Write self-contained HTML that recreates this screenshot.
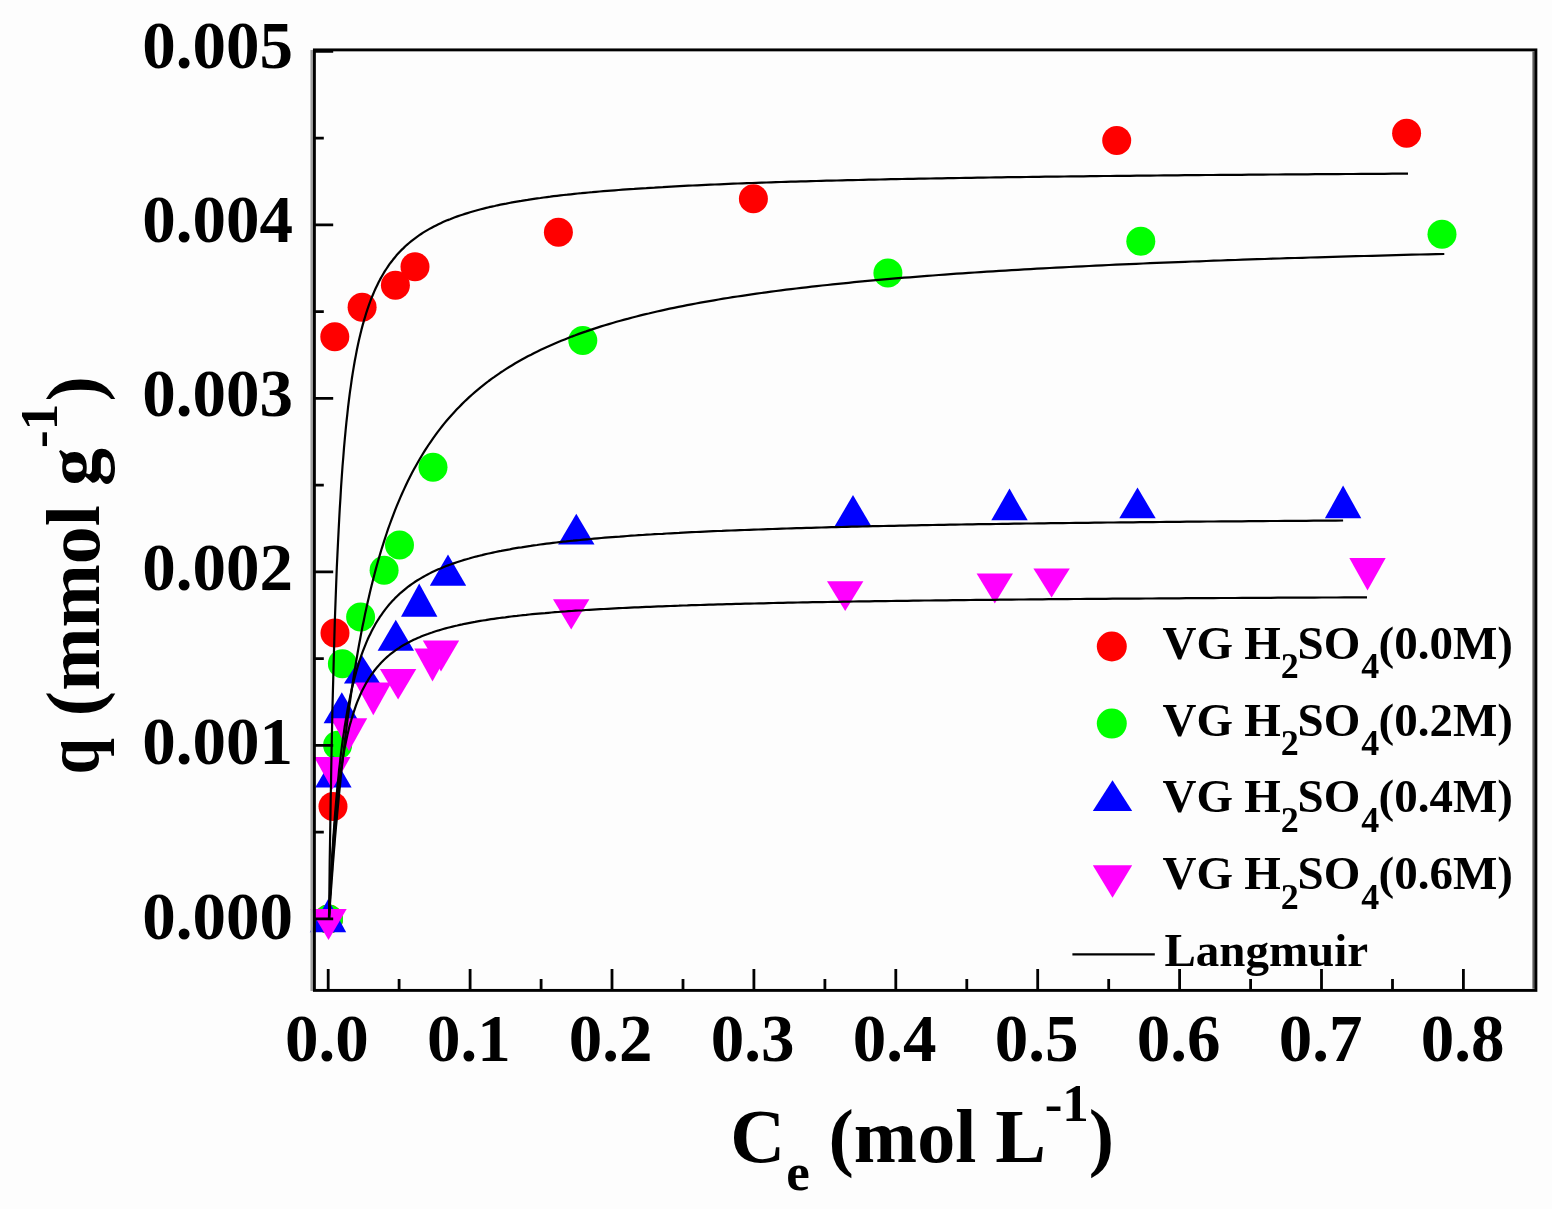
<!DOCTYPE html>
<html><head><meta charset="utf-8"><title>Langmuir isotherm</title><style>
html,body{margin:0;padding:0;background:#fdfdfd;}body{width:1552px;height:1209px;overflow:hidden;}
svg{display:block;}text{font-family:"Liberation Serif","Times New Roman",serif;font-weight:bold;fill:#000;}
</style></head><body>
<svg width="1552" height="1209" viewBox="0 0 1552 1209">
<rect x="0" y="0" width="1552" height="1209" fill="#fdfdfd"/>
<g fill="#ff0000"><circle cx="328.5" cy="919" r="14.5"/><circle cx="333" cy="806.5" r="14.5"/><circle cx="335" cy="633" r="14.5"/><circle cx="334.8" cy="336.8" r="14.5"/><circle cx="362.1" cy="307.3" r="14.5"/><circle cx="395.4" cy="285.2" r="14.5"/><circle cx="415" cy="266.8" r="14.5"/><circle cx="558.4" cy="232.3" r="14.5"/><circle cx="753.4" cy="198.8" r="14.5"/><circle cx="1116.7" cy="140.6" r="14.5"/><circle cx="1406.6" cy="133.3" r="14.5"/></g>
<g fill="#00ff00"><circle cx="328.5" cy="919" r="14.5"/><circle cx="337.6" cy="745.3" r="14.5"/><circle cx="342.4" cy="663.7" r="14.5"/><circle cx="360.6" cy="617.1" r="14.5"/><circle cx="384.1" cy="570.2" r="14.5"/><circle cx="399.5" cy="545.1" r="14.5"/><circle cx="433" cy="467.3" r="14.5"/><circle cx="582.8" cy="340.5" r="14.5"/><circle cx="887.9" cy="273" r="14.5"/><circle cx="1140.8" cy="241.2" r="14.5"/><circle cx="1442" cy="234.2" r="14.5"/></g>
<g fill="#0000ff"><path d="M328.0,899.2L346.2,932.3L309.8,932.3Z"/><path d="M333.4,756.1L351.6,787.4L315.2,787.4Z"/><path d="M341.8,692.3L360.0,723.2L323.6,723.2Z"/><path d="M362.1,655.6L380.3,683.4L343.9,683.4Z"/><path d="M395.8,619.7L414.0,650.7L377.6,650.7Z"/><path d="M419.2,583.6L437.4,616.7L401.0,616.7Z"/><path d="M448.0,554.5L466.2,585.8L429.8,585.8Z"/><path d="M576.3,513.8L594.5,544.6L558.1,544.6Z"/><path d="M853,495.1L871.2,526L834.8,526Z"/><path d="M1009.5,488.6L1027.7,520.3L991.3,520.3Z"/><path d="M1137.5,487.4L1155.7,518.3L1119.3,518.3Z"/><path d="M1343.1,485.5L1361.3,518.3L1324.9,518.3Z"/></g>
<g fill="#ff00ff"><path d="M310.3,909.1L346.7,909.1L328.5,939.9Z"/><path d="M314.1,756.9L350.5,756.9L332.3,789.6Z"/><path d="M330.8,718.2L367.2,718.2L349,751.0Z"/><path d="M355.1,682.5L391.5,682.5L373.3,715.2Z"/><path d="M379.9,669L416.3,669L398.1,699.6Z"/><path d="M414.3,648.5L450.7,648.5L432.5,681.5Z"/><path d="M422.8,640.5L459.2,640.5L441,671.5Z"/><path d="M553.0,599.2L589.4,599.2L571.2,629.6Z"/><path d="M827.0,581.3L863.4,581.3L845.2,611.1Z"/><path d="M976.6,573.6L1013.0,573.6L994.8,603.4Z"/><path d="M1033.4,568.6L1069.8,568.6L1051.6,597.6Z"/><path d="M1349.3,558.1L1385.7,558.1L1367.5,590.6Z"/></g>
<g fill="none" stroke="#000" stroke-width="2.2" stroke-linejoin="round">
<path d="M329.0,918.9 329.0,918.6 329.0,917.4 329.0,915.3 329.1,912.2 329.1,908.0 329.2,902.7 329.3,896.3 329.4,888.9 329.5,880.5 329.6,871.1 329.7,860.9 329.9,849.8 330.1,837.9 330.3,825.3 330.5,812.1 330.7,798.5 331.0,784.4 331.2,769.9 331.5,755.2 331.8,740.3 332.1,725.3 332.4,710.2 332.8,695.1 333.2,680.1 333.6,665.3 334.0,650.6 334.4,636.1 334.8,621.9 335.3,607.9 335.8,594.2 336.3,580.8 336.8,567.8 337.4,555.1 338.0,542.8 338.6,530.8 339.2,519.2 339.8,508.0 340.5,497.1 341.1,486.5 341.8,476.3 342.5,466.5 343.3,457.0 344.0,447.9 344.8,439.0 345.6,430.5 346.4,422.3 347.3,414.4 348.1,406.8 349.0,399.5 349.9,392.4 350.9,385.6 351.8,379.0 352.8,372.7 353.8,366.6 354.8,360.8 355.9,355.1 356.9,349.7 358.0,344.5 359.1,339.5 360.3,334.6 361.4,329.9 362.6,325.4 363.8,321.1 365.1,316.9 366.3,312.8 367.6,308.9 368.9,305.2 370.2,301.5 371.5,298.0 372.9,294.7 374.3,291.4 375.7,288.2 377.2,285.2 378.6,282.3 380.1,279.4 381.6,276.7 383.2,274.0 384.7,271.4 386.3,269.0 387.9,266.6 389.5,264.2 391.2,262.0 392.9,259.8 394.6,257.7 396.3,255.6 398.1,253.6 399.8,251.7 401.6,249.9 403.5,248.1 405.3,246.3 407.2,244.6 409.1,243.0 411.0,241.4 413.0,239.8 415.0,238.3 417.0,236.8 419.0,235.4 421.1,234.0 423.1,232.7 425.2,231.4 427.4,230.1 429.5,228.9 431.7,227.7 433.9,226.5 436.1,225.4 438.4,224.3 440.7,223.2 443.0,222.1 445.3,221.1 447.7,220.1 450.1,219.2 452.5,218.2 454.9,217.3 457.4,216.4 459.9,215.5 462.4,214.7 464.9,213.9 467.5,213.1 470.1,212.3 472.7,211.5 475.4,210.7 478.1,210.0 480.8,209.3 483.5,208.6 486.2,207.9 489.0,207.2 491.8,206.6 494.7,206.0 497.5,205.3 500.4,204.7 503.3,204.1 506.3,203.6 509.2,203.0 512.2,202.4 515.2,201.9 518.3,201.4 521.4,200.9 524.5,200.3 527.6,199.9 530.8,199.4 533.9,198.9 537.2,198.4 540.4,198.0 543.7,197.5 547.0,197.1 550.3,196.7 553.6,196.2 557.0,195.8 560.4,195.4 563.8,195.0 567.3,194.7 570.8,194.3 574.3,193.9 577.8,193.5 581.4,193.2 585.0,192.8 588.6,192.5 592.3,192.2 595.9,191.8 599.7,191.5 603.4,191.2 607.2,190.9 610.9,190.6 614.8,190.3 618.6,190.0 622.5,189.7 626.4,189.4 630.3,189.1 634.3,188.9 638.3,188.6 642.3,188.3 646.3,188.1 650.4,187.8 654.5,187.6 658.6,187.3 662.8,187.1 667.0,186.8 671.2,186.6 675.4,186.4 679.7,186.1 684.0,185.9 688.3,185.7 692.7,185.5 697.1,185.3 701.5,185.1 705.9,184.9 710.4,184.7 714.9,184.5 719.5,184.3 724.0,184.1 728.6,183.9 733.2,183.7 737.9,183.5 742.5,183.4 747.2,183.2 752.0,183.0 756.7,182.9 761.5,182.7 766.4,182.5 771.2,182.4 776.1,182.2 781.0,182.0 785.9,181.9 790.9,181.7 795.9,181.6 800.9,181.4 806.0,181.3 811.1,181.1 816.2,181.0 821.3,180.9 826.5,180.7 831.7,180.6 836.9,180.5 842.2,180.3 847.5,180.2 852.8,180.1 858.1,180.0 863.5,179.8 868.9,179.7 874.4,179.6 879.8,179.5 885.3,179.3 890.9,179.2 896.4,179.1 902.0,179.0 907.6,178.9 913.3,178.8 918.9,178.7 924.7,178.6 930.4,178.5 936.2,178.4 942.0,178.3 947.8,178.2 953.6,178.1 959.5,178.0 965.4,177.9 971.4,177.8 977.4,177.7 983.4,177.6 989.4,177.5 995.5,177.4 1001.6,177.3 1007.7,177.2 1013.9,177.1 1020.1,177.1 1026.3,177.0 1032.5,176.9 1038.8,176.8 1045.1,176.7 1051.5,176.6 1057.8,176.6 1064.3,176.5 1070.7,176.4 1077.2,176.3 1083.6,176.3 1090.2,176.2 1096.7,176.1 1103.3,176.0 1109.9,176.0 1116.6,175.9 1123.3,175.8 1130.0,175.8 1136.7,175.7 1143.5,175.6 1150.3,175.6 1157.1,175.5 1164.0,175.4 1170.9,175.4 1177.8,175.3 1184.8,175.2 1191.8,175.2 1198.8,175.1 1205.8,175.0 1212.9,175.0 1220.0,174.9 1227.2,174.9 1234.3,174.8 1241.5,174.8 1248.8,174.7 1256.0,174.6 1263.3,174.6 1270.7,174.5 1278.0,174.5 1285.4,174.4 1292.9,174.4 1300.3,174.3 1307.8,174.3 1315.3,174.2 1322.9,174.2 1330.5,174.1 1338.1,174.1 1345.7,174.0 1353.4,174.0 1361.1,173.9 1368.8,173.9 1376.6,173.8 1384.4,173.8 1392.2,173.7 1400.1,173.7 1408.0,173.6"/>
<path d="M329.0,918.9 329.0,918.8 329.0,918.6 329.0,918.2 329.1,917.6 329.1,916.8 329.2,915.8 329.3,914.6 329.4,913.1 329.5,911.5 329.6,909.6 329.8,907.4 329.9,905.0 330.1,902.4 330.3,899.6 330.5,896.5 330.8,893.2 331.0,889.7 331.3,886.0 331.6,882.1 331.9,877.9 332.2,873.6 332.6,869.1 332.9,864.3 333.3,859.4 333.7,854.4 334.1,849.2 334.6,843.8 335.0,838.2 335.5,832.6 336.0,826.8 336.6,820.9 337.1,814.8 337.7,808.7 338.3,802.5 338.9,796.2 339.5,789.8 340.2,783.4 340.8,776.8 341.5,770.3 342.3,763.7 343.0,757.0 343.8,750.4 344.5,743.7 345.3,737.0 346.2,730.3 347.0,723.6 347.9,716.9 348.8,710.2 349.7,703.5 350.7,696.9 351.6,690.2 352.6,683.6 353.6,677.1 354.6,670.6 355.7,664.1 356.8,657.7 357.9,651.3 359.0,645.0 360.2,638.8 361.3,632.6 362.5,626.5 363.8,620.4 365.0,614.4 366.3,608.5 367.6,602.6 368.9,596.9 370.2,591.2 371.6,585.5 373.0,580.0 374.4,574.5 375.8,569.1 377.3,563.8 378.8,558.5 380.3,553.4 381.8,548.3 383.4,543.3 385.0,538.3 386.6,533.5 388.2,528.7 389.9,524.0 391.6,519.4 393.3,514.8 395.0,510.3 396.8,505.9 398.6,501.6 400.4,497.4 402.2,493.2 404.1,489.1 406.0,485.0 407.9,481.1 409.8,477.2 411.8,473.3 413.8,469.6 415.8,465.9 417.9,462.2 419.9,458.7 422.0,455.2 424.2,451.7 426.3,448.3 428.5,445.0 430.7,441.8 432.9,438.6 435.2,435.4 437.4,432.3 439.7,429.3 442.1,426.3 444.4,423.4 446.8,420.5 449.2,417.7 451.7,414.9 454.2,412.2 456.6,409.6 459.2,406.9 461.7,404.4 464.3,401.8 466.9,399.4 469.5,396.9 472.2,394.5 474.9,392.2 477.6,389.9 480.3,387.6 483.1,385.4 485.9,383.2 488.7,381.0 491.5,378.9 494.4,376.9 497.3,374.8 500.2,372.8 503.2,370.9 506.2,368.9 509.2,367.0 512.2,365.2 515.3,363.3 518.4,361.5 521.5,359.8 524.7,358.0 527.8,356.3 531.1,354.7 534.3,353.0 537.5,351.4 540.8,349.8 544.2,348.2 547.5,346.7 550.9,345.2 554.3,343.7 557.7,342.2 561.2,340.8 564.7,339.4 568.2,338.0 571.7,336.6 575.3,335.3 578.9,333.9 582.5,332.6 586.2,331.4 589.9,330.1 593.6,328.9 597.4,327.6 601.1,326.4 604.9,325.3 608.8,324.1 612.6,323.0 616.5,321.8 620.4,320.7 624.4,319.6 628.4,318.6 632.4,317.5 636.4,316.5 640.5,315.4 644.6,314.4 648.7,313.5 652.8,312.5 657.0,311.5 661.2,310.6 665.5,309.6 669.7,308.7 674.0,307.8 678.4,306.9 682.7,306.1 687.1,305.2 691.5,304.3 696.0,303.5 700.4,302.7 704.9,301.9 709.5,301.1 714.0,300.3 718.6,299.5 723.3,298.7 727.9,298.0 732.6,297.2 737.3,296.5 742.0,295.8 746.8,295.1 751.6,294.4 756.5,293.7 761.3,293.0 766.2,292.3 771.1,291.7 776.1,291.0 781.1,290.4 786.1,289.7 791.1,289.1 796.2,288.5 801.3,287.9 806.4,287.3 811.6,286.7 816.8,286.1 822.0,285.5 827.3,285.0 832.6,284.4 837.9,283.8 843.2,283.3 848.6,282.8 854.0,282.2 859.4,281.7 864.9,281.2 870.4,280.7 875.9,280.2 881.5,279.7 887.1,279.2 892.7,278.7 898.4,278.2 904.0,277.7 909.8,277.3 915.5,276.8 921.3,276.4 927.1,275.9 932.9,275.5 938.8,275.0 944.7,274.6 950.6,274.2 956.6,273.7 962.6,273.3 968.6,272.9 974.7,272.5 980.7,272.1 986.9,271.7 993.0,271.3 999.2,270.9 1005.4,270.6 1011.6,270.2 1017.9,269.8 1024.2,269.4 1030.6,269.1 1036.9,268.7 1043.3,268.4 1049.7,268.0 1056.2,267.7 1062.7,267.3 1069.2,267.0 1075.8,266.7 1082.4,266.3 1089.0,266.0 1095.6,265.7 1102.3,265.4 1109.0,265.0 1115.8,264.7 1122.6,264.4 1129.4,264.1 1136.2,263.8 1143.1,263.5 1150.0,263.2 1156.9,262.9 1163.9,262.7 1170.9,262.4 1177.9,262.1 1185.0,261.8 1192.1,261.5 1199.2,261.3 1206.4,261.0 1213.6,260.7 1220.8,260.5 1228.0,260.2 1235.3,260.0 1242.6,259.7 1250.0,259.4 1257.4,259.2 1264.8,259.0 1272.2,258.7 1279.7,258.5 1287.2,258.2 1294.8,258.0 1302.4,257.8 1310.0,257.5 1317.6,257.3 1325.3,257.1 1333.0,256.9 1340.7,256.6 1348.5,256.4 1356.3,256.2 1364.1,256.0 1372.0,255.8 1379.9,255.6 1387.8,255.3 1395.8,255.1 1403.8,254.9 1411.8,254.7 1419.9,254.5 1428.0,254.3 1436.1,254.1 1444.3,254.0"/>
<path d="M329.0,918.9 329.0,918.8 329.0,918.5 329.0,918.0 329.1,917.1 329.1,916.0 329.2,914.6 329.3,912.9 329.3,910.9 329.5,908.6 329.6,906.0 329.7,903.1 329.9,900.0 330.0,896.5 330.2,892.8 330.4,888.9 330.6,884.7 330.8,880.3 331.1,875.6 331.3,870.8 331.6,865.8 331.9,860.7 332.2,855.4 332.6,850.0 332.9,844.5 333.3,838.9 333.7,833.2 334.1,827.4 334.5,821.6 334.9,815.8 335.4,810.0 335.9,804.1 336.4,798.3 336.9,792.5 337.4,786.7 338.0,781.0 338.6,775.3 339.1,769.6 339.8,764.1 340.4,758.6 341.0,753.1 341.7,747.8 342.4,742.5 343.1,737.3 343.9,732.3 344.6,727.3 345.4,722.4 346.2,717.6 347.0,712.9 347.8,708.3 348.7,703.8 349.6,699.4 350.5,695.1 351.4,691.0 352.3,686.9 353.3,682.9 354.3,679.0 355.3,675.2 356.3,671.5 357.3,667.9 358.4,664.4 359.5,660.9 360.6,657.6 361.7,654.3 362.9,651.2 364.1,648.1 365.3,645.1 366.5,642.2 367.7,639.3 369.0,636.6 370.3,633.9 371.6,631.3 372.9,628.7 374.3,626.2 375.6,623.8 377.0,621.5 378.5,619.2 379.9,616.9 381.4,614.8 382.9,612.7 384.4,610.6 385.9,608.6 387.5,606.6 389.0,604.8 390.6,602.9 392.3,601.1 393.9,599.4 395.6,597.6 397.3,596.0 399.0,594.4 400.7,592.8 402.5,591.3 404.3,589.8 406.1,588.3 407.9,586.9 409.8,585.5 411.7,584.1 413.6,582.8 415.5,581.5 417.5,580.3 419.5,579.1 421.5,577.9 423.5,576.7 425.5,575.6 427.6,574.5 429.7,573.4 431.8,572.3 434.0,571.3 436.1,570.3 438.3,569.3 440.6,568.4 442.8,567.4 445.1,566.5 447.4,565.6 449.7,564.8 452.0,563.9 454.4,563.1 456.8,562.3 459.2,561.5 461.6,560.7 464.1,559.9 466.6,559.2 469.1,558.5 471.6,557.7 474.2,557.0 476.8,556.4 479.4,555.7 482.0,555.1 484.7,554.4 487.4,553.8 490.1,553.2 492.8,552.6 495.6,552.0 498.4,551.4 501.2,550.9 504.0,550.3 506.9,549.8 509.8,549.3 512.7,548.7 515.7,548.2 518.6,547.7 521.6,547.3 524.6,546.8 527.7,546.3 530.7,545.9 533.8,545.4 537.0,545.0 540.1,544.5 543.3,544.1 546.5,543.7 549.7,543.3 553.0,542.9 556.2,542.5 559.5,542.1 562.9,541.7 566.2,541.4 569.6,541.0 573.0,540.7 576.4,540.3 579.9,540.0 583.4,539.6 586.9,539.3 590.4,539.0 594.0,538.6 597.6,538.3 601.2,538.0 604.8,537.7 608.5,537.4 612.2,537.1 615.9,536.8 619.7,536.6 623.4,536.3 627.2,536.0 631.1,535.7 634.9,535.5 638.8,535.2 642.7,535.0 646.7,534.7 650.6,534.5 654.6,534.2 658.6,534.0 662.7,533.8 666.7,533.5 670.8,533.3 674.9,533.1 679.1,532.9 683.3,532.6 687.5,532.4 691.7,532.2 696.0,532.0 700.3,531.8 704.6,531.6 708.9,531.4 713.3,531.2 717.7,531.0 722.1,530.9 726.5,530.7 731.0,530.5 735.5,530.3 740.0,530.1 744.6,530.0 749.2,529.8 753.8,529.6 758.4,529.5 763.1,529.3 767.8,529.1 772.5,529.0 777.3,528.8 782.1,528.7 786.9,528.5 791.7,528.4 796.6,528.2 801.4,528.1 806.4,527.9 811.3,527.8 816.3,527.6 821.3,527.5 826.3,527.4 831.4,527.2 836.4,527.1 841.6,527.0 846.7,526.9 851.9,526.7 857.1,526.6 862.3,526.5 867.5,526.4 872.8,526.2 878.1,526.1 883.5,526.0 888.8,525.9 894.2,525.8 899.6,525.7 905.1,525.6 910.6,525.4 916.1,525.3 921.6,525.2 927.2,525.1 932.8,525.0 938.4,524.9 944.0,524.8 949.7,524.7 955.4,524.6 961.1,524.5 966.9,524.4 972.7,524.3 978.5,524.2 984.3,524.2 990.2,524.1 996.1,524.0 1002.1,523.9 1008.0,523.8 1014.0,523.7 1020.0,523.6 1026.1,523.5 1032.2,523.5 1038.3,523.4 1044.4,523.3 1050.6,523.2 1056.7,523.1 1063.0,523.1 1069.2,523.0 1075.5,522.9 1081.8,522.8 1088.1,522.8 1094.5,522.7 1100.9,522.6 1107.3,522.5 1113.8,522.5 1120.2,522.4 1126.8,522.3 1133.3,522.3 1139.9,522.2 1146.5,522.1 1153.1,522.1 1159.7,522.0 1166.4,521.9 1173.1,521.9 1179.9,521.8 1186.7,521.7 1193.5,521.7 1200.3,521.6 1207.1,521.5 1214.0,521.5 1221.0,521.4 1227.9,521.4 1234.9,521.3 1241.9,521.3 1248.9,521.2 1256.0,521.1 1263.1,521.1 1270.2,521.0 1277.4,521.0 1284.6,520.9 1291.8,520.9 1299.0,520.8 1306.3,520.8 1313.6,520.7 1320.9,520.7 1328.3,520.6 1335.7,520.6 1343.1,520.5"/>
<path d="M329.0,918.9 329.0,918.8 329.0,918.5 329.0,918.0 329.1,917.1 329.1,916.0 329.2,914.6 329.3,912.9 329.4,910.9 329.5,908.6 329.6,906.0 329.7,903.2 329.9,900.1 330.0,896.7 330.2,893.1 330.4,889.2 330.6,885.1 330.9,880.9 331.1,876.5 331.4,871.9 331.7,867.2 332.0,862.3 332.3,857.4 332.7,852.3 333.0,847.2 333.4,842.1 333.8,836.9 334.2,831.7 334.6,826.5 335.1,821.3 335.5,816.1 336.0,811.0 336.5,805.9 337.1,800.8 337.6,795.8 338.2,790.9 338.8,786.1 339.4,781.3 340.0,776.6 340.7,772.0 341.3,767.5 342.0,763.1 342.7,758.8 343.5,754.6 344.2,750.5 345.0,746.4 345.8,742.5 346.6,738.7 347.4,735.0 348.3,731.3 349.1,727.8 350.0,724.4 351.0,721.1 351.9,717.8 352.9,714.7 353.9,711.6 354.9,708.6 355.9,705.7 356.9,702.9 358.0,700.2 359.1,697.6 360.2,695.0 361.3,692.5 362.5,690.1 363.7,687.7 364.9,685.5 366.1,683.2 367.4,681.1 368.6,679.0 369.9,677.0 371.2,675.0 372.6,673.1 373.9,671.3 375.3,669.5 376.7,667.8 378.2,666.1 379.6,664.4 381.1,662.8 382.6,661.3 384.1,659.8 385.7,658.3 387.2,656.9 388.8,655.5 390.4,654.2 392.1,652.9 393.8,651.6 395.4,650.4 397.2,649.2 398.9,648.1 400.6,646.9 402.4,645.8 404.2,644.8 406.1,643.7 407.9,642.7 409.8,641.7 411.7,640.8 413.6,639.8 415.6,638.9 417.6,638.0 419.6,637.2 421.6,636.3 423.6,635.5 425.7,634.7 427.8,634.0 429.9,633.2 432.1,632.5 434.2,631.7 436.4,631.0 438.7,630.4 440.9,629.7 443.2,629.0 445.5,628.4 447.8,627.8 450.1,627.2 452.5,626.6 454.9,626.0 457.3,625.5 459.8,624.9 462.3,624.4 464.7,623.8 467.3,623.3 469.8,622.8 472.4,622.3 475.0,621.9 477.6,621.4 480.3,620.9 482.9,620.5 485.6,620.1 488.4,619.6 491.1,619.2 493.9,618.8 496.7,618.4 499.5,618.0 502.4,617.6 505.3,617.3 508.2,616.9 511.1,616.5 514.1,616.2 517.0,615.9 520.1,615.5 523.1,615.2 526.2,614.9 529.2,614.5 532.4,614.2 535.5,613.9 538.7,613.6 541.9,613.3 545.1,613.1 548.3,612.8 551.6,612.5 554.9,612.2 558.2,612.0 561.6,611.7 565.0,611.5 568.4,611.2 571.8,611.0 575.3,610.7 578.8,610.5 582.3,610.3 585.8,610.0 589.4,609.8 593.0,609.6 596.6,609.4 600.2,609.2 603.9,609.0 607.6,608.8 611.3,608.6 615.1,608.4 618.9,608.2 622.7,608.0 626.5,607.8 630.4,607.6 634.3,607.4 638.2,607.3 642.1,607.1 646.1,606.9 650.1,606.8 654.1,606.6 658.2,606.4 662.3,606.3 666.4,606.1 670.5,606.0 674.7,605.8 678.9,605.7 683.1,605.5 687.4,605.4 691.6,605.2 695.9,605.1 700.3,605.0 704.6,604.8 709.0,604.7 713.4,604.6 717.9,604.4 722.3,604.3 726.8,604.2 731.4,604.1 735.9,603.9 740.5,603.8 745.1,603.7 749.7,603.6 754.4,603.5 759.1,603.4 763.8,603.3 768.6,603.1 773.3,603.0 778.1,602.9 783.0,602.8 787.8,602.7 792.7,602.6 797.7,602.5 802.6,602.4 807.6,602.3 812.6,602.2 817.6,602.1 822.7,602.1 827.8,602.0 832.9,601.9 838.0,601.8 843.2,601.7 848.4,601.6 853.6,601.5 858.9,601.4 864.2,601.4 869.5,601.3 874.9,601.2 880.2,601.1 885.6,601.1 891.1,601.0 896.5,600.9 902.0,600.8 907.5,600.8 913.1,600.7 918.7,600.6 924.3,600.5 929.9,600.5 935.6,600.4 941.3,600.3 947.0,600.3 952.7,600.2 958.5,600.1 964.3,600.1 970.2,600.0 976.0,599.9 981.9,599.9 987.9,599.8 993.8,599.8 999.8,599.7 1005.8,599.6 1011.8,599.6 1017.9,599.5 1024.0,599.5 1030.2,599.4 1036.3,599.4 1042.5,599.3 1048.7,599.2 1055.0,599.2 1061.2,599.1 1067.6,599.1 1073.9,599.0 1080.3,599.0 1086.7,598.9 1093.1,598.9 1099.5,598.8 1106.0,598.8 1112.5,598.7 1119.1,598.7 1125.7,598.6 1132.3,598.6 1138.9,598.6 1145.6,598.5 1152.2,598.5 1159.0,598.4 1165.7,598.4 1172.5,598.3 1179.3,598.3 1186.2,598.2 1193.0,598.2 1199.9,598.2 1206.9,598.1 1213.8,598.1 1220.8,598.0 1227.8,598.0 1234.9,598.0 1242.0,597.9 1249.1,597.9 1256.2,597.9 1263.4,597.8 1270.6,597.8 1277.8,597.7 1285.1,597.7 1292.4,597.7 1299.7,597.6 1307.1,597.6 1314.5,597.6 1321.9,597.5 1329.3,597.5 1336.8,597.5 1344.3,597.4 1351.8,597.4 1359.4,597.4 1367.0,597.3"/>
</g>
<line x1="311.7" y1="50" x2="311.7" y2="991" stroke="#a0a0a0" stroke-width="2.5"/>
<line x1="1533.6" y1="51.5" x2="1533.6" y2="988.8" stroke="#5c5c5c" stroke-width="2.4"/>
<rect x="314.4" y="49.9" width="1221.5" height="940.5" fill="none" stroke="#000" stroke-width="2.9"/>
<path d="M328.2,991V969 M399.1,991V979 M470.1,991V969 M541.1,991V979 M612.0,991V969 M683.0,991V979 M753.9,991V969 M824.9,991V979 M895.8,991V969 M966.8,991V979 M1037.7,991V969 M1108.7,991V979 M1179.6,991V969 M1250.6,991V979 M1321.5,991V969 M1392.5,991V979 M1463.4,991V969 M314,918.9H333.2 M314,832.1H323.8 M314,745.4H333.2 M314,658.6H323.8 M314,571.9H333.2 M314,485.1H323.8 M314,398.4H333.2 M314,311.6H323.8 M314,224.9H333.2 M314,138.1H323.8 M314,51.4H333.2" stroke="#000" stroke-width="2.8" fill="none"/>
<g font-size="67" text-anchor="end">
<text x="293.1" y="938.5">0.000</text>
<text x="293.1" y="764.4">0.001</text>
<text x="293.1" y="590.4">0.002</text>
<text x="293.1" y="416.3">0.003</text>
<text x="293.1" y="242.3">0.004</text>
<text x="293.1" y="68.2">0.005</text>
</g><g font-size="67" text-anchor="middle">
<text x="326.8" y="1061">0.0</text>
<text x="468.8" y="1061">0.1</text>
<text x="610.7" y="1061">0.2</text>
<text x="752.7" y="1061">0.3</text>
<text x="894.6" y="1061">0.4</text>
<text x="1036.6" y="1061">0.5</text>
<text x="1178.6" y="1061">0.6</text>
<text x="1320.5" y="1061">0.7</text>
<text x="1462.5" y="1061">0.8</text>
</g>
<text x="730.29" y="1161.7" font-size="76">C</text>
<text x="786.29" y="1190.1" font-size="53">e</text>
<text x="828.56" y="1161.7" font-size="76">(mol L</text>
<text x="1044.66" y="1120.8" font-size="53">-1</text>
<text x="1088.75" y="1161.7" font-size="76">)</text>
<g transform="rotate(-90)">
<text transform="translate(-771.9,0) scale(0.86,1) translate(771.9,0)" x="-775.02" y="98.5" font-size="76">q</text>
<text x="-716.14" y="98.5" font-size="76">(mmol g</text>
<text x="-447.94" y="57.1" font-size="53">-1</text>
<text x="-401.47" y="98.5" font-size="76">)</text>
</g>
<circle cx="1111.8" cy="646.5" r="15" fill="#ff0000"/>
<text y="658.5" font-size="47"><tspan x="1162.57">VG </tspan><tspan x="1244.2">H</tspan><tspan x="1280.69" y="678.0" font-size="36">2</tspan><tspan x="1297.5" y="658.5">SO</tspan><tspan x="1361.31" y="678.0" font-size="36">4</tspan><tspan x="1378.53" y="658.5">(0.0M)</tspan></text>
<circle cx="1111.8" cy="723.6" r="15" fill="#00ff00"/>
<text y="735.6" font-size="47"><tspan x="1162.57">VG </tspan><tspan x="1244.2">H</tspan><tspan x="1280.69" y="755.1" font-size="36">2</tspan><tspan x="1297.5" y="735.6">SO</tspan><tspan x="1361.31" y="755.1" font-size="36">4</tspan><tspan x="1378.53" y="735.6">(0.2M)</tspan></text>
<path d="M1112.5,780.2L1132.2,811.0L1092.8,811.0Z" fill="#0000ff"/>
<text y="812.4" font-size="47"><tspan x="1162.57">VG </tspan><tspan x="1244.2">H</tspan><tspan x="1280.69" y="831.9" font-size="36">2</tspan><tspan x="1297.5" y="812.4">SO</tspan><tspan x="1361.31" y="831.9" font-size="36">4</tspan><tspan x="1378.53" y="812.4">(0.4M)</tspan></text>
<path d="M1092.8,865.2L1132.2,865.2L1112.5,897.8Z" fill="#ff00ff"/>
<text y="889.2" font-size="47"><tspan x="1162.57">VG </tspan><tspan x="1244.2">H</tspan><tspan x="1280.69" y="908.7" font-size="36">2</tspan><tspan x="1297.5" y="889.2">SO</tspan><tspan x="1361.31" y="908.7" font-size="36">4</tspan><tspan x="1378.53" y="889.2">(0.6M)</tspan></text>
<line x1="1072.4" y1="954.4" x2="1154.8" y2="954.4" stroke="#000" stroke-width="2.4"/>
<text x="1164.4" y="965.5" font-size="47">Langmuir</text>
</svg></body></html>
